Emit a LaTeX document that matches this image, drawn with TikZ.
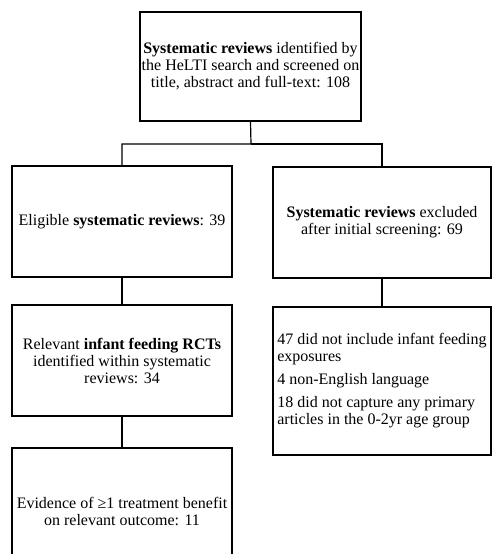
\documentclass[tikz,border=0pt]{standalone}
\usepackage{fontspec}
\setmainfont{Liberation Serif}
\usetikzlibrary{positioning}

\begin{document}
\begin{tikzpicture}[x=0.75pt,y=0.75pt,yscale=-1,xscale=1,
  box/.style={draw, line width=0.9pt, inner sep=0pt, align=center, font=\fontsize{12}{12.75}\selectfont},
  link/.style={line width=0.9pt}]
\useasboundingbox (0,0) rectangle (493,554);
\clip (0,0) rectangle (493,554);
\node [box, minimum width=165.75pt, minimum height=81.75pt] (search) at (250.5,66.5) {\textbf{Systematic reviews} identified by\\the HeLTI search and screened on\\title, abstract and full-text: 108};
\node [box, minimum width=165pt, minimum height=83.25pt] (eligible) at (122,221.5) {Eligible \textbf{systematic reviews}: 39};
\node [box, minimum width=163.5pt, minimum height=83.25pt] (excluded) at (382,222.5) {\textbf{Systematic reviews} excluded\\after initial screening: 69};
\node [box, minimum width=165pt, minimum height=83.25pt] (rcts) at (122,360.5) {Relevant \textbf{infant feeding RCTs}\\identified within systematic\\reviews: 34};
\node [box, minimum width=163.5pt, minimum height=111pt, align=left] (reasons) at (382,381) {47 did not include infant feeding\\exposures\\[4.5pt]4 non-English language\\[4.5pt]18 did not capture any primary\\articles in the 0-2yr age group};
\node [box, minimum width=165pt, minimum height=94.5pt] (benefit) at (122,511) {Evidence of ≥1 treatment benefit\\on relevant outcome: 11};
\coordinate (split) at (251,144);
\draw [link] (search.south) -- (split) -| (eligible.north);
\draw [link] (split) -| (excluded.north);
\draw [link] (eligible.south) -- (rcts.north);
\draw [link] (excluded.south) -- (reasons.north);
\draw [link] (rcts.south) -- (benefit.north);
\end{tikzpicture}
\end{document}
